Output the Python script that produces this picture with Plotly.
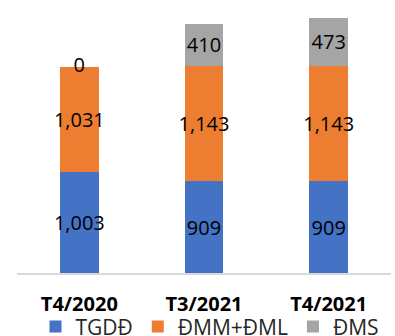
import plotly.graph_objects as go

categories = ["T4/2020", "T3/2021", "T4/2021"]
tgdd = [1003, 909, 909]
dmm_dml = [1031, 1143, 1143]
dms = [0, 410, 473]

series = [
    ("TGDĐ", tgdd, "#4472C4"),
    ("ĐMM+ĐML", dmm_dml, "#ED7D31"),
    ("ĐMS", dms, "#A5A5A5"),
]

FONT = "Open Sans, Noto Sans, sans-serif"

fig = go.Figure()
for name, vals, color in series:
    fig.add_trace(go.Bar(
        x=categories, y=vals, name=name,
        marker=dict(color=color, line=dict(width=0)),
        text=[f"{v:,}" if v else "" for v in vals],
        textposition="inside",
        insidetextanchor="middle",
        constraintext="none",
        textangle=0,
        textfont=dict(family=FONT, size=20, color="#000000"),
    ))

# labels for zero-height segments, placed at the top of the stack
totals = [a + b + c for a, b, c in zip(tgdd, dmm_dml, dms)]
zero_x = [c for c, v in zip(categories, dms) if v == 0]
zero_y = [t for t, v in zip(totals, dms) if v == 0]
zero_t = [f"{v:,}" for v in dms if v == 0]
fig.add_trace(go.Scatter(
    x=zero_x, y=zero_y, text=zero_t, mode="text",
    textposition="middle center", showlegend=False, hoverinfo="skip",
    textfont=dict(family=FONT, size=20, color="#000000"), cliponaxis=False,
))

fig.update_layout(
    barmode="stack",
    bargap=0.69,
    width=395, height=336,
    margin=dict(l=17, r=4, t=0, b=63, autoexpand=False),
    paper_bgcolor="white", plot_bgcolor="white",
    font=dict(family=FONT),
    showlegend=True,
    legend=dict(
        orientation="h", x=0.516, xanchor="center", y=-0.122, yanchor="top",
        traceorder="normal", bgcolor="rgba(0,0,0,0)",
        font=dict(family=FONT, size=21, color="#262626"),
        itemwidth=30, tracegroupgap=0,
    ),
    xaxis=dict(
        showgrid=False, showline=True, linecolor="#D9D9D9", linewidth=1.5,
        ticks="outside", ticklen=12, tickcolor="rgba(0,0,0,0)",
        tickfont=dict(family=FONT, size=20, color="#000000", weight="bold"),
    ),
    yaxis=dict(range=[0, 2700], visible=False, showgrid=False),
)

fig.write_html("out.html")
